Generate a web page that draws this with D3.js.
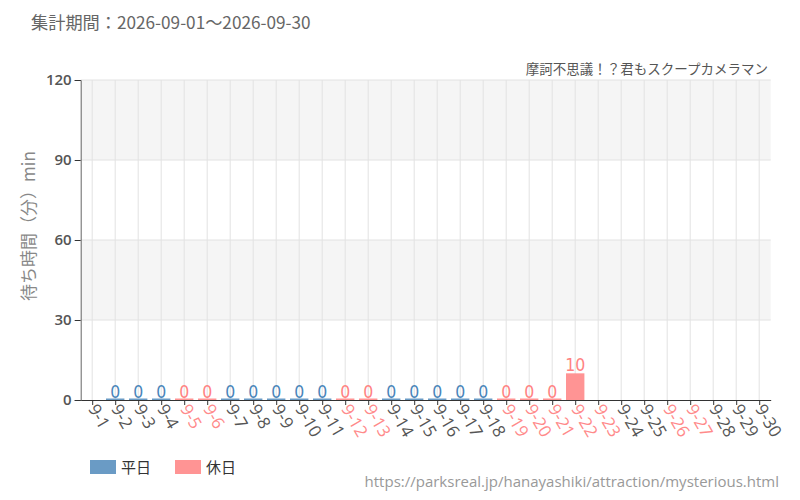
<!DOCTYPE html>
<html><head><meta charset="utf-8">
<script src="https://cdn.jsdelivr.net/npm/d3@7"></script>
<style>
body{margin:0;background:#fff;}
svg{display:block;}
</style></head>
<body><svg id="c" width="800" height="500"></svg>
<script>
const dates = ["9-1","9-2","9-3","9-4","9-5","9-6","9-7","9-8","9-9","9-10","9-11","9-12","9-13","9-14","9-15","9-16","9-17","9-18","9-19","9-20","9-21","9-22","9-23","9-24","9-25","9-26","9-27","9-28","9-29","9-30"];
const waits = [null,0,0,0,0,0,0,0,0,0,0,0,0,0,0,0,0,0,0,0,0,10,null,null,null,null,null,null,null,null];
const holidays = ["9-5","9-6","9-12","9-13","9-19","9-20","9-21","9-22","9-23","9-26","9-27"];
const yTicks = [0,30,60,90,120];
const legendLabels = ["平日","休日"];
const titleText = "集計期間：2026-09-01～2026-09-30";
const subtitleText = "摩訶不思議！？君もスクープカメラマン";
const yLabel = "待ち時間（分）min";
const sourceText = "https://parksreal.jp/hanayashiki/attraction/mysterious.html";

const C_WD = "#6a9bc5", C_HD = "#ff9494", T_WD = "#4a85ba", T_HD = "#ff8282";
const svg = d3.select("#c");
const L = 80.7, R = 770.7, T = 80, B = 400;
const x = d3.scaleBand().domain(dates).range([L, R]).paddingInner(0.2).paddingOuter(0.1);
const xc = d3.scalePoint().domain(dates).range([L, R]).padding(0.5);
const y = d3.scaleLinear().domain([0,120]).range([B, T]);
const isHol = d => holidays.includes(d);
const cjk = "'Noto Sans CJK JP','Noto Sans',sans-serif";

// bands
for (let i = 0; i < yTicks.length-1; i++) {
  svg.append("rect").attr("x", L).attr("width", R-L)
    .attr("y", y(yTicks[i+1])).attr("height", y(yTicks[i]) - y(yTicks[i+1]))
    .attr("fill", i % 2 === 1 ? "#f5f5f5" : "#ffffff");
}
// grid
svg.append("g").selectAll("line").data(yTicks.slice(1)).join("line")
  .attr("x1", L).attr("x2", R).attr("y1", d=>y(d)).attr("y2", d=>y(d))
  .attr("stroke", "#e2e2e2").attr("stroke-width",1);
svg.append("g").selectAll("line").data(dates).join("line")
  .attr("x1", d=>xc(d)).attr("x2", d=>xc(d)).attr("y1", T).attr("y2", B)
  .attr("stroke", "#e2e2e2").attr("stroke-width",1);

// bars
const data = dates.map((d,i)=>({d, v: waits[i]})).filter(o=>o.v !== null);
svg.append("g").selectAll("rect").data(data).join("rect")
  .attr("x", o=>x(o.d)).attr("width", x.bandwidth())
  .attr("y", o=>Math.min(y(o.v), B-1.5)).attr("height", o=>Math.max(B-y(o.v),1.5))
  .attr("fill", o=>isHol(o.d)?C_HD:C_WD);
svg.append("g").selectAll("text").data(data).join("text")
  .attr("x", o=>xc(o.d)).attr("y", o=>y(o.v)-2.5)
  .attr("text-anchor","middle")
  .style("font-family","'Liberation Sans Narrow','DejaVu Sans Condensed',sans-serif")
  .style("font-size","17.5px")
  .attr("fill", o=>isHol(o.d)?T_HD:T_WD)
  .text(o=>o.v);

// axes
const ya = svg.append("g").attr("transform",`translate(${L},0)`)
  .call(d3.axisLeft(y).tickValues(yTicks).tickSize(6).tickPadding(3));
ya.select(".domain").attr("stroke","#666");
ya.selectAll(".tick line").attr("stroke","#333");
ya.selectAll("text").style("font-family","'Open Sans',sans-serif").style("font-size","15px")
  .style("font-weight","600").attr("fill","#555");

const xa = svg.append("g").attr("transform",`translate(0,${B})`)
  .call(d3.axisBottom(xc).tickSize(5).tickSizeOuter(0));
xa.select(".domain").attr("stroke","#333");
xa.selectAll(".tick line").attr("stroke","#333");
xa.selectAll("text")
  .attr("text-anchor","start").attr("x",0).attr("y",0).attr("dy","0")
  .attr("transform","translate(-5,8.5) rotate(60)")
  .style("font-family","'Open Sans',sans-serif").style("font-size","17px")
  .attr("fill", d=>isHol(d)?"#ff8a8a":"#555");

// texts
svg.append("text").attr("x",31).attr("y",29).text(titleText)
  .style("font-family",cjk).style("font-size","17.2px").attr("fill","#666");
svg.append("text").attr("x",768).attr("y",74).attr("text-anchor","end").text(subtitleText)
  .style("font-family",cjk).style("font-size","13.5px").attr("fill","#555");
svg.append("text").attr("transform","translate(35,226) rotate(-90)").attr("text-anchor","middle")
  .text(yLabel).style("font-family",cjk).style("font-size","17px").attr("fill","#888");
svg.append("text").attr("x",779).attr("y",487).attr("text-anchor","end").text(sourceText)
  .style("font-family","'Open Sans',sans-serif").style("font-size","15px").attr("fill","#999");

// legend
const lg = svg.append("g");
legendLabels.forEach((t,i)=>{
  const lx = 90 + i*85;
  lg.append("rect").attr("x",lx).attr("y",460).attr("width",26).attr("height",14).attr("fill", i===0?C_WD:C_HD);
  lg.append("text").attr("x",lx+31).attr("y",473).text(t)
    .style("font-family",cjk).style("font-size","15px").attr("fill","#333");
});
</script></body></html>
